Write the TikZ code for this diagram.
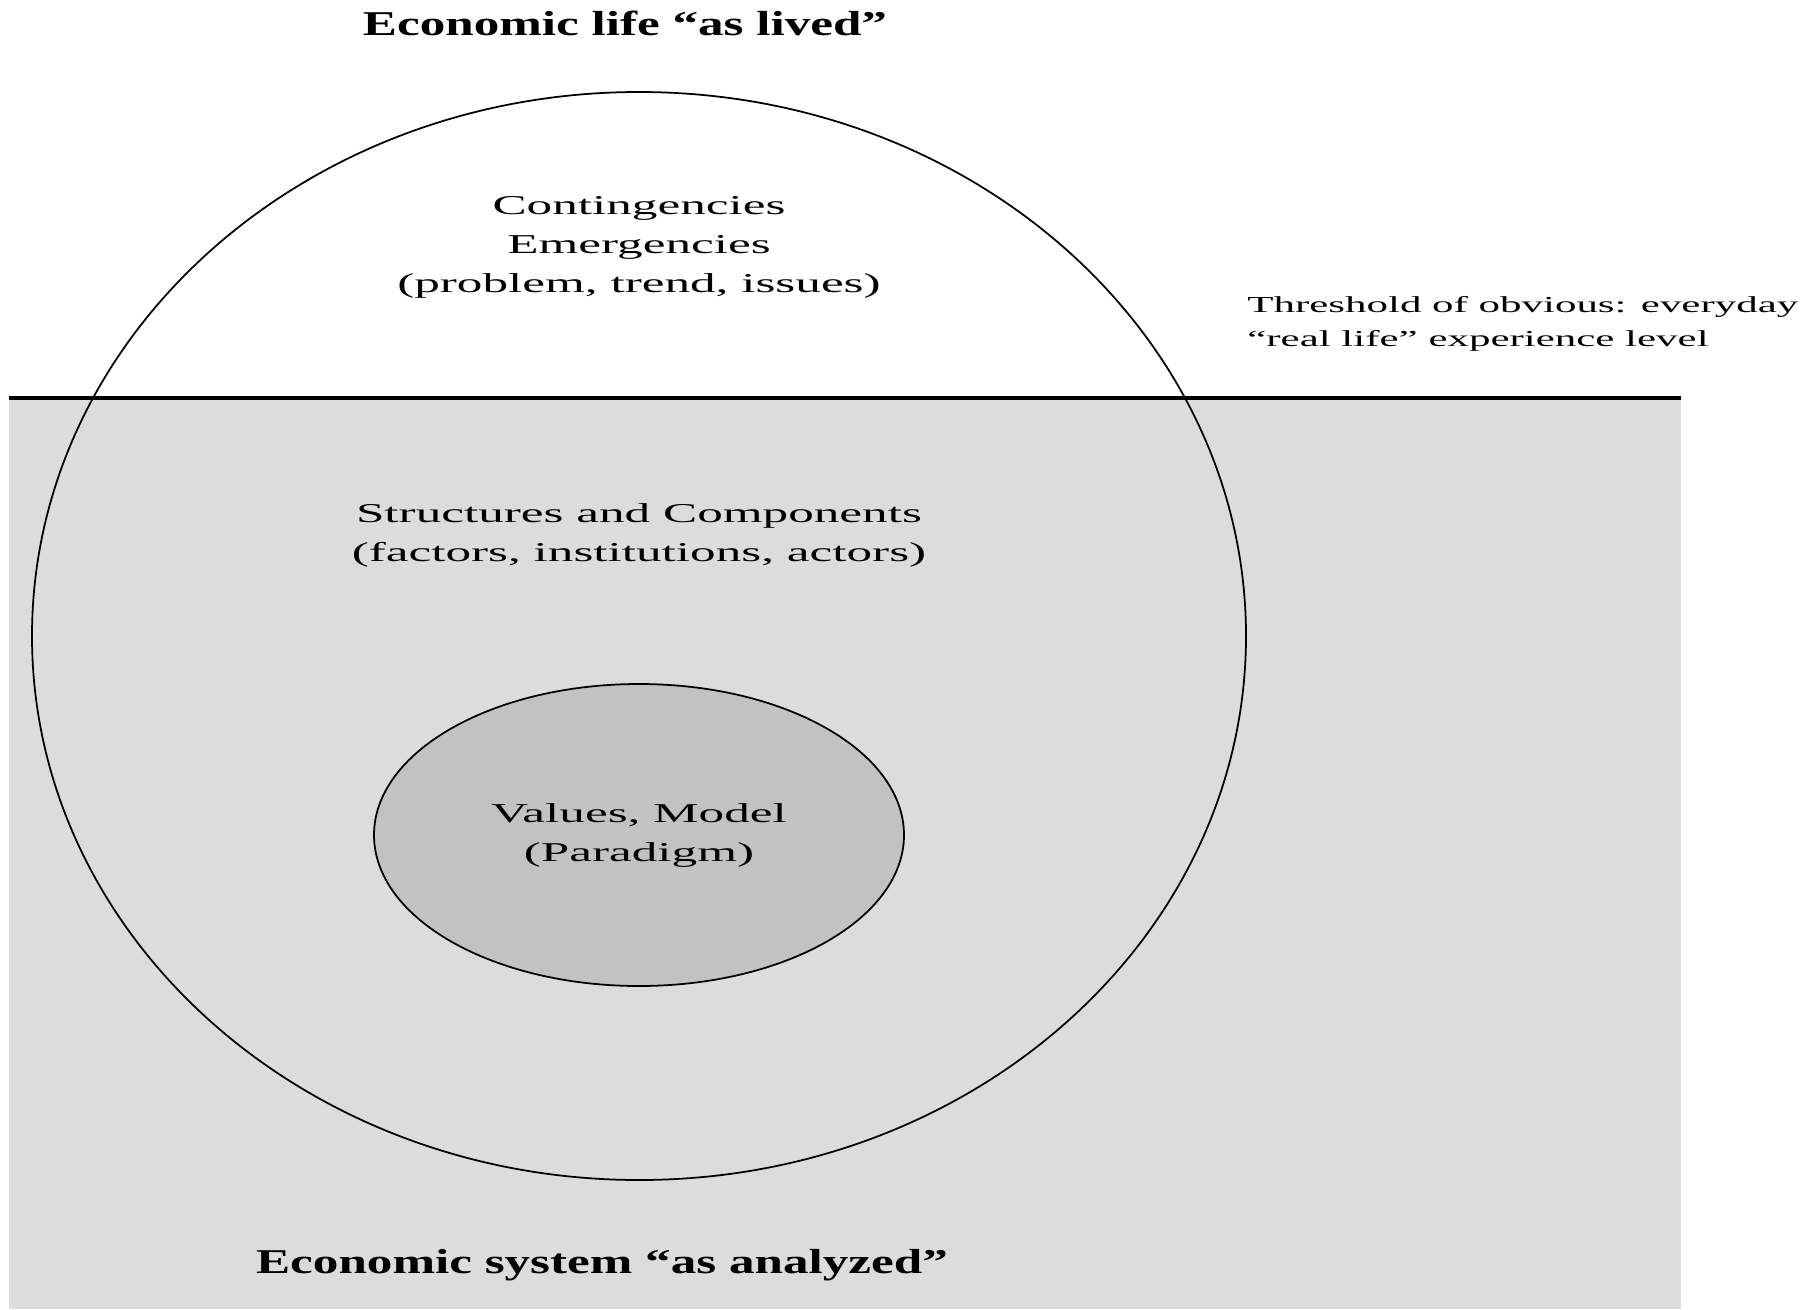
\documentclass[tikz,border=0pt]{standalone}
\usepackage{fontspec}
\setmainfont{Liberation Serif}
\newfontfamily\bodywide[FakeStretch=1.88]{Liberation Serif}
\newfontfamily\headwide[FakeStretch=1.47]{Liberation Serif}
\usetikzlibrary{positioning}
\definecolor{fieldgray}{HTML}{DCDCDC}
\definecolor{coregray}{HTML}{C2C2C2}

\begin{document}
\begin{tikzpicture}[
  x=0.02cm, y=-0.02cm,
  body/.style={font=\bodywide\fontsize{15.5}{22.2}\selectfont, align=center, inner sep=0pt},
  side/.style={font=\bodywide\fontsize{13}{19}\selectfont, align=left, inner sep=0pt},
  head/.style={font=\headwide\bfseries\fontsize{19.8}{24}\selectfont, inner sep=0pt},
  rim/.style={draw=black, line width=1pt},
  threshold/.style={draw=black, line width=2.2pt},
]
\useasboundingbox (0,0) rectangle (1818,1309);

% analysed layer, below the threshold
\fill[fieldgray] (9,398) rectangle (1681,1309);
\coordinate (thrL) at (9,398);
\coordinate (thrR) at (1681,398);
\draw[threshold] (thrL) -- (thrR);

% outer ring and the core
\coordinate (hub) at (639,636);
\coordinate (core) at (639,835);
\draw[rim] (hub) ellipse [x radius=607, y radius=544];
\draw[rim, fill=coregray] (core) ellipse [x radius=265, y radius=151];

% =========================== labels ===========================
\node[head, anchor=base] (lived) at (625,35) {Economic life “as lived”};
\node[body] (surface) at (639,247) {Contingencies\\Emergencies\\(problem, trend, issues)};
\node[side, anchor=west] (obvious) at (1247,324) {Threshold of obvious: everyday\\“real life” experience level};
\node[body] (structures) at (639,535) {Structures and Components\\(factors, institutions, actors)};
\node[body] (paradigm) at (core) {Values, Model\\(Paradigm)};
\node[head, anchor=base] (analyzed) at (602,1273) {Economic system “as analyzed”};

\end{tikzpicture}
\end{document}
